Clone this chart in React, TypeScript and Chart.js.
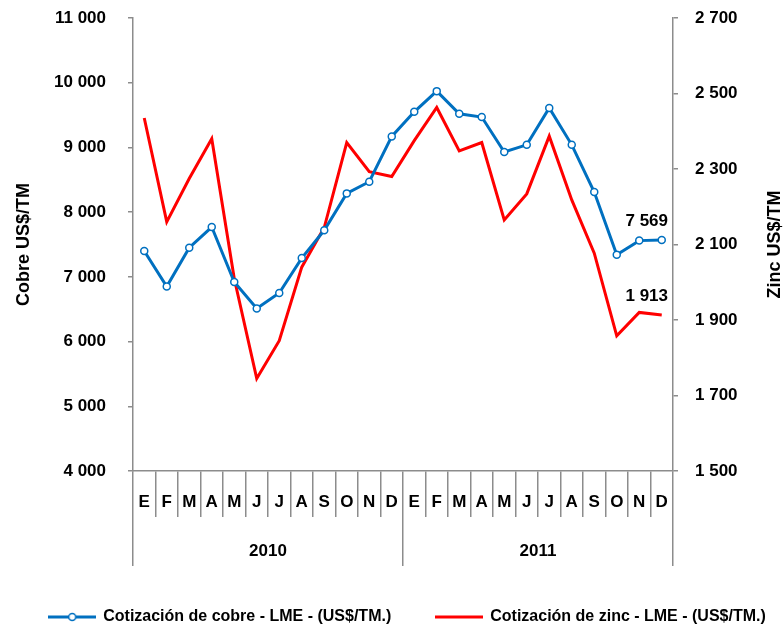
import React, { useEffect, useRef } from 'react';
import { Chart, registerables } from 'chart.js';

Chart.register(...registerables);

const months = ['E', 'F', 'M', 'A', 'M', 'J', 'J', 'A', 'S', 'O', 'N', 'D', 'E', 'F', 'M', 'A', 'M', 'J', 'J', 'A', 'S', 'O', 'N', 'D'];
const years = ['2010', '2011'];
const copper = [7400, 6850, 7450, 7770, 6920, 6510, 6750, 7290, 7720, 8290, 8470, 9170, 9550, 9870, 9520, 9470, 8930, 9040, 9610, 9040, 8310, 7340, 7560, 7569];
const zinc = [2435, 2160, 2275, 2380, 2010, 1745, 1845, 2040, 2145, 2370, 2293, 2280, 2375, 2463, 2348, 2370, 2165, 2234, 2387, 2218, 2077, 1858, 1920, 1913];
const copperLabel = 'Cotización de cobre - LME - (US$/TM.)';
const zincLabel = 'Cotización de zinc - LME - (US$/TM.)';
const leftTitle = 'Cobre US$/TM';
const rightTitle = 'Zinc US$/TM';

const BLUE = '#0070C0';
const RED = '#FF0000';
const GRAY = '#8c8c8c';
const FONT = "'Liberation Sans', Arial, sans-serif";

const fmt = (v: number) => String(Math.round(v)).replace(/\B(?=(\d{3})+(?!\d))/g, ' ');

function makeIcon(color: string, marker: boolean) {
  const c = document.createElement('canvas');
  c.width = 48;
  c.height = 12;
  const ctx = c.getContext('2d')!;
  ctx.strokeStyle = color;
  ctx.lineWidth = 3;
  ctx.beginPath();
  ctx.moveTo(0, 6);
  ctx.lineTo(48, 6);
  ctx.stroke();
  if (marker) {
    ctx.beginPath();
    ctx.arc(24, 6, 3.5, 0, Math.PI * 2);
    ctx.fillStyle = '#fff';
    ctx.fill();
    ctx.lineWidth = 1.5;
    ctx.stroke();
  }
  return c;
}

export default function App() {
  const ref = useRef<HTMLCanvasElement>(null);

  useEffect(() => {
    if (!ref.current) return;
    Chart.defaults.font.family = FONT;
    Chart.defaults.font.weight = 'bold';
    Chart.defaults.color = '#000';
    const icons = [makeIcon(BLUE, true), makeIcon(RED, false)];

    const lastLabels = {
      id: 'lastLabels',
      afterDatasetsDraw(chart: any) {
        const ctx = chart.ctx;
        ctx.save();
        ctx.font = `bold 17px ${FONT}`;
        ctx.fillStyle = '#000';
        ctx.textAlign = 'center';
        ctx.textBaseline = 'middle';
        chart.data.datasets.forEach((ds: any, i: number) => {
          const meta = chart.getDatasetMeta(i);
          const n = ds.data.length - 1;
          const el = meta.data[n];
          ctx.fillText(fmt(ds.data[n]), el.x - 15, el.y - 19);
        });
        ctx.restore();
      },
    };

    const rightTitlePlugin = {
      id: 'rightTitle',
      afterDraw(chart: any) {
        const ctx = chart.ctx;
        const area = chart.chartArea;
        ctx.save();
        ctx.font = `bold 18px ${FONT}`;
        ctx.fillStyle = '#000';
        ctx.textAlign = 'center';
        ctx.textBaseline = 'middle';
        ctx.translate(775, (area.top + area.bottom) / 2);
        ctx.rotate(-Math.PI / 2);
        ctx.fillText(rightTitle, 0, 0);
        ctx.restore();
      },
    };

    const chart = new Chart(ref.current, {
      type: 'line',
      data: {
        labels: months,
        datasets: [
          {
            label: copperLabel,
            data: copper,
            yAxisID: 'y',
            xAxisID: 'x',
            borderColor: BLUE,
            backgroundColor: BLUE,
            borderWidth: 3,
            pointRadius: 3.5,
            pointBackgroundColor: '#fff',
            pointBorderColor: BLUE,
            pointBorderWidth: 1.5,
            tension: 0,
          },
          {
            label: zincLabel,
            data: zinc,
            yAxisID: 'y1',
            xAxisID: 'x',
            borderColor: RED,
            backgroundColor: RED,
            borderWidth: 3,
            pointRadius: 0,
            tension: 0,
          },
        ],
      },
      options: {
        responsive: false,
        animation: false,
        devicePixelRatio: 1,
        layout: { padding: { top: 18, left: 1, right: -30, bottom: -8 } },
        plugins: {
          tooltip: { enabled: false },
          legend: {
            position: 'bottom',
            labels: {
              usePointStyle: true,
              pointStyleWidth: 46,
              padding: 45,
              color: '#000',
              font: { size: 16, weight: 'bold', family: FONT },
              generateLabels: (c: any) => {
                const items = (Chart.defaults.plugins.legend.labels as any).generateLabels(c);
                items.forEach((it: any, i: number) => {
                  it.pointStyle = icons[i];
                });
                return items;
              },
            },
          },
        },
        scales: {
          x: {
            type: 'category',
            position: 'bottom',
            offset: true,
            grid: { offset: true, drawOnChartArea: false, tickLength: 46, color: GRAY, lineWidth: 1.5 },
            border: { display: true, color: GRAY, width: 1.5 },
            ticks: { padding: -25, maxRotation: 0, autoSkip: false, font: { size: 17, weight: 'bold' }, color: '#000' },
            afterFit: (s: any) => { s.height = 46; },
          },
          x2: {
            type: 'category',
            position: 'bottom',
            labels: years,
            offset: true,
            grid: { offset: true, drawOnChartArea: false, tickLength: 49, color: GRAY, lineWidth: 1.5 },
            border: { display: false },
            ticks: { padding: -25, maxRotation: 0, font: { size: 17, weight: 'bold' }, color: '#000' },
            afterFit: (s: any) => { s.height = 47; },
          },
          y: {
            type: 'linear',
            position: 'left',
            min: 4000,
            max: 11000,
            ticks: { stepSize: 1000, padding: 22, callback: (v: any) => fmt(Number(v)), font: { size: 17, weight: 'bold' }, color: '#000' },
            grid: { drawOnChartArea: false, tickLength: 5, color: GRAY, lineWidth: 1.5 },
            border: { display: true, color: GRAY, width: 1.5 },
            title: { display: true, text: leftTitle, font: { size: 18, weight: 'bold' }, color: '#000', padding: { top: 12, bottom: 0 } },
            afterFit: (s: any) => { s.width = 132; s.paddingTop = 0; s.paddingBottom = 0; },
          },
          y1: {
            type: 'linear',
            position: 'right',
            min: 1500,
            max: 2700,
            ticks: { stepSize: 200, padding: 17, callback: (v: any) => fmt(Number(v)), font: { size: 17, weight: 'bold' }, color: '#000' },
            grid: { drawOnChartArea: false, tickLength: 5, color: GRAY, lineWidth: 1.5 },
            border: { display: true, color: GRAY, width: 1.5 },
            afterFit: (s: any) => { s.width = 141; s.paddingTop = 0; s.paddingBottom = 0; },
          },
        },
      } as any,
      plugins: [lastLabels, rightTitlePlugin],
    });
    return () => chart.destroy();
  }, []);

  return (
    <div style={{ position: 'fixed', left: 0, top: 0, width: 784, height: 627, overflow: 'hidden', background: '#fff' }}>
      <canvas ref={ref} width={784} height={627} style={{ display: 'block', width: 784, height: 627 }} />
    </div>
  );
}
